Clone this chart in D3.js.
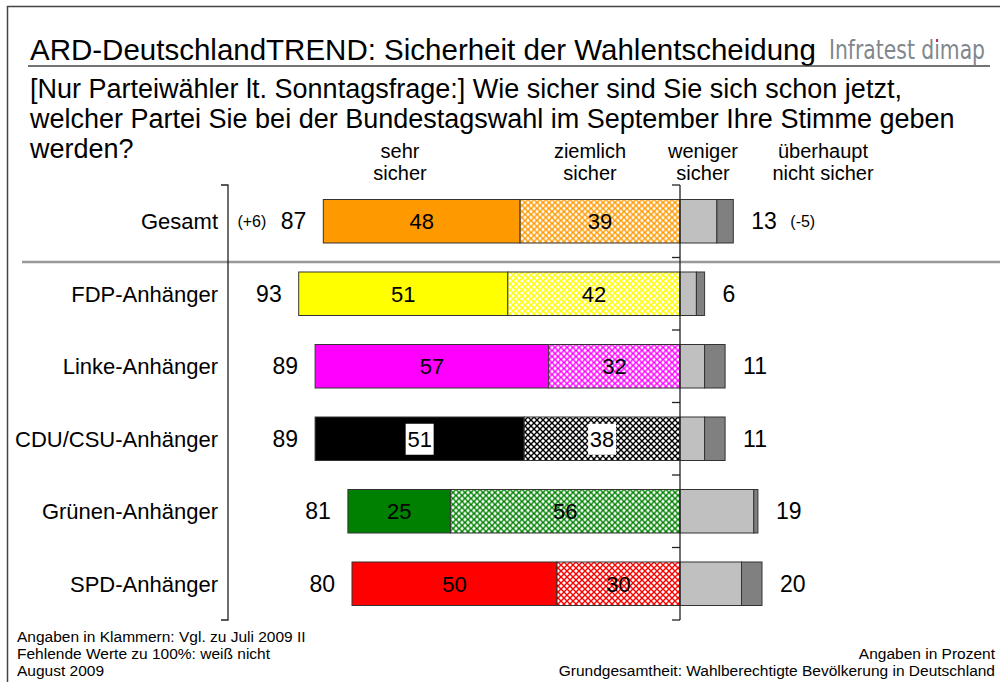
<!DOCTYPE html>
<html>
<head>
<meta charset="utf-8">
<script src="https://cdn.jsdelivr.net/npm/d3@7"></script>
<style>
  body { margin: 0; background: #fff; }
  svg text { font-family: "Liberation Sans", Arial, sans-serif; }
</style>
</head>
<body>
<div id="chart"></div>
<script>
// chart data
var categories = ["Gesamt", "FDP-Anhänger", "Linke-Anhänger", "CDU/CSU-Anhänger", "Grünen-Anhänger", "SPD-Anhänger"];
var sehrSicher = [48, 51, 57, 51, 25, 50];
var ziemlichSicher = [39, 42, 32, 38, 56, 30];
var wenigerSicher = [9, 4, 6, 6, 18, 15];
var nichtSicher = [4, 2, 5, 5, 1, 5];
var sicherTotal = [87, 93, 89, 89, 81, 80];
var unsicherTotal = [13, 6, 11, 11, 19, 20];
var sicherChange = ["(+6)", "", "", "", "", ""];
var unsicherChange = ["(-5)", "", "", "", "", ""];
var partyColors = ["#FF9900", "#FFFF00", "#FF00FF", "#000000", "#008000", "#FF0000"];
var headers = [["sehr", "sicher"], ["ziemlich", "sicher"], ["weniger", "sicher"], ["überhaupt", "nicht sicher"]];

var width = 1000, height = 682;

var svg = d3.select("#chart").append("svg")
    .attr("width", width)
    .attr("height", height);

var defs = svg.append("defs");

// outer frame
svg.append("path")
    .attr("d", "M7.5," + height + "V6.5H" + width)
    .attr("fill", "none")
    .attr("stroke", "#444")
    .attr("stroke-width", 1.5);

// title
svg.append("text")
    .attr("x", 30).attr("y", 60)
    .attr("font-size", "29.5px")
    .attr("fill", "#000")
    .text("ARD-DeutschlandTREND: Sicherheit der Wahlentscheidung");

// logo
function logoText(sel) {
  return sel.attr("x", 985).attr("y", 59)
    .attr("text-anchor", "end")
    .attr("font-size", "26px")
    .attr("textLength", 156)
    .attr("lengthAdjust", "spacingAndGlyphs")
    .style("font-family", "'Liberation Sans Narrow', 'DejaVu Sans Condensed', sans-serif")
    .text("Infratest dimap");
}
var logo = logoText(svg.append("text")).attr("fill", "#80878d");
logoText(defs.append("clipPath").attr("id", "logoClip").append("text"));

// red dot on the i of dimap: pink rect clipped to the glyph
var iBox = logo.node().getExtentOfChar(11);
svg.append("rect")
    .attr("x", iBox.x - 1)
    .attr("y", 30)
    .attr("width", iBox.width + 2).attr("height", 14)
    .attr("fill", "#d4145a")
    .attr("clip-path", "url(#logoClip)");

// title underline
svg.append("line")
    .attr("x1", 28).attr("x2", 990)
    .attr("y1", 66).attr("y2", 66)
    .attr("stroke", "#444").attr("stroke-width", 1.5);

// question
var question = ["[Nur Parteiwähler lt. Sonntagsfrage:] Wie sicher sind Sie sich schon jetzt,",
                "welcher Partei Sie bei der Bundestagswahl im September Ihre Stimme geben",
                "werden?"];
svg.selectAll(".question")
    .data(question)
  .enter().append("text")
    .attr("class", "question")
    .attr("x", 30)
    .attr("y", function(d, i) { return 98 + i * 30; })
    .attr("font-size", "27px")
    .text(function(d) { return d; });

// scales
var x = d3.scaleLinear()
    .domain([-100, 100])
    .range([680 - 410, 680 + 410]);

var y = d3.scaleBand()
    .domain(categories)
    .range([185, 620])
    .paddingInner(0.4)
    .paddingOuter(0.2);

// column headers
var headerX = [400, 590, 703, 823];
headers.forEach(function(h, i) {
  svg.append("text")
      .attr("x", headerX[i]).attr("text-anchor", "middle")
      .attr("font-size", "20px")
      .selectAll("tspan")
      .data(h)
    .enter().append("tspan")
      .attr("x", headerX[i])
      .attr("y", function(d, j) { return 158 + j * 22; })
      .text(function(d) { return d; });
});

// hatch patterns
partyColors.forEach(function(c, i) {
  var p = defs.append("pattern")
      .attr("id", "hatch" + i)
      .attr("patternUnits", "userSpaceOnUse")
      .attr("width", 6).attr("height", 6);
  p.append("rect").attr("width", 6).attr("height", 6).attr("fill", "#fff");
  p.append("path")
      .attr("d", "M0,0L6,6M6,0L0,6")
      .attr("stroke", c).attr("stroke-width", 1.4);
});

// separator after Gesamt
svg.append("line")
    .attr("x1", 22).attr("x2", width)
    .attr("y1", 262).attr("y2", 262)
    .attr("stroke", "#999").attr("stroke-width", 2.5);

// build segment records
var rows = categories.map(function(c, i) {
  var s = sehrSicher[i], z = ziemlichSicher[i], w = wenigerSicher[i], n = nichtSicher[i];
  return {cat: c, i: i, segs: [
    {x0: -(s + z), x1: -z, fill: partyColors[i], label: s},
    {x0: -z, x1: 0, fill: "url(#hatch" + i + ")", label: z},
    {x0: 0, x1: w, fill: "#C0C0C0", label: null},
    {x0: w, x1: w + n, fill: "#808080", label: null}
  ]};
});

var rowG = svg.selectAll(".row")
    .data(rows)
  .enter().append("g")
    .attr("class", "row")
    .attr("transform", function(d) { return "translate(0," + y(d.cat) + ")"; });

rowG.selectAll("rect")
    .data(function(d) { return d.segs; })
  .enter().append("rect")
    .attr("x", function(d) { return x(d.x0); })
    .attr("width", function(d) { return x(d.x1) - x(d.x0); })
    .attr("height", y.bandwidth())
    .attr("fill", function(d) { return d.fill; })
    .attr("stroke", "#333")
    .attr("stroke-width", 1);

var mid = y.bandwidth() / 2;

// segment value labels
rowG.each(function(r) {
  var g = d3.select(this);
  r.segs.slice(0, 2).forEach(function(s) {
    var cx = (x(s.x0) + x(s.x1)) / 2;
    if (r.cat === "CDU/CSU-Anhänger") {
      g.append("rect")
          .attr("x", cx - 14).attr("y", mid - 15)
          .attr("width", 28).attr("height", 31)
          .attr("fill", "#fff");
    }
    g.append("text")
        .attr("x", cx)
        .attr("y", mid + 8)
        .attr("text-anchor", "middle")
        .attr("font-size", "22px")
        .text(s.label);
  });
});

// category labels
rowG.append("text")
    .attr("x", 218)
    .attr("y", mid + 8)
    .attr("text-anchor", "end")
    .attr("font-size", "22px")
    .text(function(d) { return d.cat; });

// totals left
rowG.append("text")
    .attr("x", function(d) { return x(-sicherTotal[d.i]) - 17; })
    .attr("y", mid + 8)
    .attr("text-anchor", "end")
    .attr("font-size", "23px")
    .text(function(d) { return sicherTotal[d.i]; });

rowG.append("text")
    .attr("x", function(d) { return x(-sicherTotal[d.i]) - 57; })
    .attr("y", mid + 6)
    .attr("text-anchor", "end")
    .attr("font-size", "16px")
    .text(function(d) { return sicherChange[d.i]; });

// totals right
rowG.append("text")
    .attr("x", function(d) { return x(unsicherTotal[d.i]) + 18; })
    .attr("y", mid + 8)
    .attr("font-size", "23px")
    .text(function(d) { return unsicherTotal[d.i]; });

rowG.append("text")
    .attr("x", function(d) { return x(unsicherTotal[d.i]) + 57; })
    .attr("y", mid + 6)
    .attr("font-size", "16px")
    .text(function(d) { return unsicherChange[d.i]; });

// center axis with ticks at category boundaries
var bounds = [185].concat(categories.map(function(c) { return y(c) + y.bandwidth() + y.step() * 0.2; }));
svg.append("line")
    .attr("x1", x(0)).attr("x2", x(0))
    .attr("y1", 185).attr("y2", 620)
    .attr("stroke", "#222").attr("stroke-width", 1.3);
svg.selectAll(".ctick")
    .data(bounds)
  .enter().append("line")
    .attr("class", "ctick")
    .attr("x1", x(0) - 8).attr("x2", x(0))
    .attr("y1", function(d) { return d; }).attr("y2", function(d) { return d; })
    .attr("stroke", "#222").attr("stroke-width", 1.3);

// left axis
svg.append("path")
    .attr("d", "M221,185H228V620H221")
    .attr("fill", "none")
    .attr("stroke", "#222").attr("stroke-width", 1.3);

// footnotes
var notesLeft = ["Angaben in Klammern: Vgl. zu Juli 2009 II", "Fehlende Werte zu 100%: weiß nicht", "August 2009"];
svg.selectAll(".noteL")
    .data(notesLeft)
  .enter().append("text")
    .attr("class", "noteL")
    .attr("x", 17)
    .attr("y", function(d, i) { return 642 + i * 17; })
    .attr("font-size", "15.5px")
    .text(function(d) { return d; });

var notesRight = ["Angaben in Prozent", "Grundgesamtheit: Wahlberechtigte Bevölkerung in Deutschland"];
svg.selectAll(".noteR")
    .data(notesRight)
  .enter().append("text")
    .attr("class", "noteR")
    .attr("x", 995)
    .attr("y", function(d, i) { return 659 + i * 17; })
    .attr("text-anchor", "end")
    .attr("font-size", "15.5px")
    .text(function(d) { return d; });
</script>
</body>
</html>
